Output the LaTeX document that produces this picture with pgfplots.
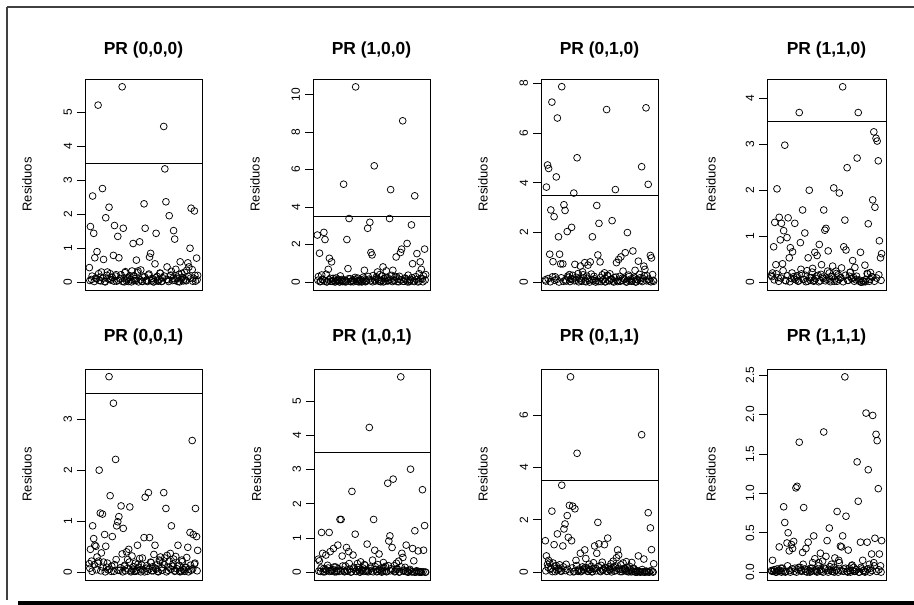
\documentclass[border=0pt]{standalone}
\usepackage{pgfplots}
\pgfplotsset{compat=1.18}
\usepackage{fontspec}
\setmainfont{Liberation Sans}
\pgfplotsset{
  rp/.style={scale only axis, height=211bp, xmin=-2.96, xmax=103.96,
    xtick=\empty, ytick pos=left, tick align=outside, major tick length=8bp,
    axis line style={line width=0.8bp},
    every tick/.style={black, line width=0.8bp},
    /pgf/number format/assume math mode=true,
    yticklabel style={rotate=90, anchor=south, inner sep=0pt, font=\fontsize{12}{12}\selectfont},
    yticklabel shift=4.7bp,
    ylabel={Residuos},
    every axis y label/.style={at={(axis description cs:-0.495,0.5)}, rotate=90, anchor=center, font=\fontsize{13}{13}\selectfont},
    every axis title/.style={at={(axis description cs:0.5,1)}, anchor=base, yshift=24bp, font=\bfseries\fontsize{17.5}{17.5}\selectfont},
    clip=true},
  pts/.style={only marks, mark=o, mark size=3.4bp, mark options={line width=0.75bp, black}},
  hl/.style={black, line width=0.8bp, no marks}
}
\begin{document}
\begin{tikzpicture}[x=1bp,y=1bp]
\useasboundingbox (0,0) rectangle (914,605);
\draw[line width=1.3bp, black!75] (7,598) -- (914,598);
\draw[line width=1.3bp, black!75] (7,598) -- (7,5);
\fill[black] (18,0) rectangle (914,3.6);

% Panel 1
\begin{axis}[rp, at={(85bp,315bp)}, anchor=south west, width=117bp, ymin=-0.23, ymax=5.99, ytick={0,1,2,3,4,5}, title={PR (0,0,0)}]
\addplot[pts] coordinates {
(1,.43)(2,1.64)(3,.08)(4,2.54)(5,1.44)(6,.72)(7,.12)(8,.90)(9,5.22)(10,.05)
(11,.15)(12,.30)(13,2.76)(14,.67)(15,.02)(16,1.90)(17,.20)(18,.10)(19,2.21)(20,.25)
(21,.06)(22,.14)(23,.79)(24,1.67)(25,.18)(26,.03)(27,1.35)(28,.72)(29,.09)(30,.22)
(31,5.76)(32,1.59)(33,.01)(34,.31)(35,.04)(36,.12)(37,.02)(38,.19)(39,.07)(40,.33)
(41,1.14)(42,.05)(43,.11)(44,.65)(45,.28)(46,.01)(47,1.19)(48,.36)(49,.03)(50,.15)
(51,2.31)(52,1.59)(53,.06)(54,.02)(55,.21)(56,.74)(57,.85)(58,.04)(59,.10)(60,.01)
(61,.54)(62,1.44)(63,.17)(64,.03)(65,.08)(66,.26)(67,.02)(68,.13)(69,4.59)(70,3.34)
(71,2.37)(72,.45)(73,.07)(74,1.96)(75,.19)(76,.32)(77,.05)(78,1.52)(79,1.27)(80,.38)
(81,.11)(82,.02)(83,.23)(84,.60)(85,.09)(86,.14)(87,.04)(88,.29)(89,.06)(90,.35)
(91,.57)(92,.45)(93,1.00)(94,2.18)(95,.37)(96,.12)(97,2.10)(98,.03)(99,.71)(100,.20)};
\addplot[pts] coordinates {
(1.5,.05)(3.5,.18)(5.5,.02)(7.5,.10)(9.5,.25)(11.5,.04)(13.5,.12)(15.5,.01)(17.5,.30)(19.5,.08)
(21.5,.15)(23.5,.03)(25.5,.22)(27.5,.06)(29.5,.11)(31.5,.02)(33.5,.28)(35.5,.09)(37.5,.14)(39.5,.01)
(41.5,.19)(43.5,.05)(45.5,.33)(47.5,.07)(49.5,.02)(51.5,.16)(53.5,.04)(55.5,.24)(57.5,.10)(59.5,.01)
(61.5,.13)(63.5,.06)(65.5,.27)(67.5,.03)(69.5,.18)(71.5,.08)(73.5,.02)(75.5,.21)(77.5,.11)(79.5,.05)
(81.5,.15)(83.5,.01)(85.5,.26)(87.5,.09)(89.5,.04)(91.5,.17)(93.5,.12)(95.5,.03)(97.5,.20)(99.5,.07)};
\addplot[hl] coordinates {(-10,3.5)(110,3.5)};
\end{axis}

% Panel 2
\begin{axis}[rp, at={(313bp,315bp)}, anchor=south west, width=117bp, ymin=-0.42, ymax=10.83, ytick={0,2,4,6,8,10}, title={PR (1,0,0)}]
\addplot[pts] coordinates {
(1,2.51)(2,.30)(3,1.54)(4,.05)(5,.38)(6,.12)(7,2.65)(8,2.27)(9,.42)(10,.02)
(11,.68)(12,1.27)(13,.20)(14,1.08)(15,.04)(16,.10)(17,.01)(18,.22)(19,.06)(20,.15)
(21,.02)(22,.33)(23,.08)(24,.03)(25,5.22)(26,.11)(27,.01)(28,2.27)(29,.72)(30,3.39)
(31,.18)(32,.04)(33,.09)(34,.02)(35,.14)(36,10.41)(37,.05)(38,.21)(39,.01)(40,.07)
(41,.12)(42,.03)(43,.26)(44,.63)(45,.02)(46,.09)(47,2.87)(48,.15)(49,3.19)(50,1.58)
(51,1.45)(52,.35)(53,6.20)(54,.06)(55,.28)(56,.54)(57,.13)(58,.40)(59,.02)(60,.32)
(61,.81)(62,.19)(63,.05)(64,.60)(65,.24)(66,.10)(67,3.39)(68,4.93)(69,.36)(70,.63)
(71,.08)(72,.27)(73,1.34)(74,.03)(75,.16)(76,.31)(77,1.58)(78,1.76)(79,8.60)(80,.04)
(81,.22)(82,.11)(83,2.06)(84,.37)(85,.02)(86,.14)(87,3.05)(88,.98)(89,.07)(90,4.60)
(91,.29)(92,1.52)(93,.01)(94,.45)(95,1.08)(96,.68)(97,.18)(98,.33)(99,1.76)(100,.40)};
\addplot[pts] coordinates {
(1.5,.10)(3.5,.02)(5.5,.15)(7.5,.05)(9.5,.01)(11.5,.12)(13.5,.04)(15.5,.20)(17.5,.02)(19.5,.08)
(21.5,.01)(23.5,.14)(25.5,.03)(27.5,.06)(29.5,.18)(31.5,.02)(33.5,.09)(35.5,.25)(37.5,.04)(39.5,.11)
(41.5,.01)(43.5,.16)(45.5,.05)(47.5,.30)(49.5,.07)(51.5,.02)(53.5,.13)(55.5,.20)(57.5,.04)(59.5,.09)
(61.5,.01)(63.5,.22)(65.5,.06)(67.5,.15)(69.5,.03)(71.5,.10)(73.5,.28)(75.5,.02)(77.5,.12)(79.5,.05)
(81.5,.18)(83.5,.01)(85.5,.08)(87.5,.24)(89.5,.03)(91.5,.14)(93.5,.06)(95.5,.20)(97.5,.02)(99.5,.11)};
\addplot[hl] coordinates {(-10,3.5)(110,3.5)};
\end{axis}

% Panel 3
\begin{axis}[rp, at={(541bp,315bp)}, anchor=south west, width=117bp, ymin=-0.31, ymax=8.18, ytick={0,2,4,6,8}, title={PR (0,1,0)}]
\addplot[pts] coordinates {
(1,.10)(2,3.83)(3,4.72)(4,4.58)(5,1.13)(6,2.91)(7,7.25)(8,.83)(9,2.64)(10,.22)
(11,4.24)(12,6.61)(13,1.83)(14,1.13)(15,.74)(16,7.87)(17,.74)(18,3.12)(19,2.89)(20,.05)
(21,2.04)(22,.20)(23,.31)(24,.12)(25,2.21)(26,.28)(27,3.59)(28,.72)(29,.08)(30,5.01)
(31,.35)(32,.15)(33,.65)(34,.04)(35,.42)(36,.18)(37,.79)(38,.02)(39,.25)(40,.69)
(41,.09)(42,.82)(43,.33)(44,1.83)(45,.06)(46,.14)(47,.01)(48,3.09)(49,1.10)(50,2.37)
(51,.82)(52,.03)(53,.30)(54,.10)(55,.38)(56,.02)(57,6.95)(58,.27)(59,.07)(60,.34)
(61,.12)(62,2.48)(63,.05)(64,.19)(65,3.73)(66,.79)(67,.03)(68,.92)(69,.24)(70,1.02)
(71,.08)(72,.45)(73,.15)(74,1.19)(75,.01)(76,2.00)(77,.29)(78,.06)(79,.13)(80,.04)
(81,1.26)(82,.20)(83,.48)(84,.02)(85,.11)(86,.85)(87,.32)(88,.07)(89,4.65)(90,.16)
(91,.65)(92,.52)(93,7.02)(94,.26)(95,3.94)(96,.05)(97,1.08)(98,.98)(99,.31)(100,.04)};
\addplot[pts] coordinates {
(1.5,.05)(3.5,.15)(5.5,.02)(7.5,.22)(9.5,.08)(11.5,.12)(13.5,.01)(15.5,.18)(17.5,.04)(19.5,.10)
(21.5,.25)(23.5,.03)(25.5,.14)(27.5,.06)(29.5,.20)(31.5,.02)(33.5,.09)(35.5,.30)(37.5,.05)(39.5,.16)
(41.5,.01)(43.5,.11)(45.5,.24)(47.5,.07)(49.5,.03)(51.5,.19)(53.5,.10)(55.5,.02)(57.5,.27)(59.5,.06)
(61.5,.13)(63.5,.01)(65.5,.21)(67.5,.08)(69.5,.04)(71.5,.17)(73.5,.11)(75.5,.02)(77.5,.23)(79.5,.05)
(81.5,.14)(83.5,.01)(85.5,.09)(87.5,.18)(89.5,.03)(91.5,.26)(93.5,.06)(95.5,.12)(97.5,.02)(99.5,.08)};
\addplot[hl] coordinates {(-10,3.5)(110,3.5)};
\end{axis}

% Panel 4
\begin{axis}[rp, at={(767bp,315bp)}, anchor=south west, width=119bp, ymin=-0.17, ymax=4.42, ytick={0,1,2,3,4}, title={PR (1,1,0)}, every axis y label/.append style={at={(axis description cs:-0.47,0.5)}}]
\addplot[pts] coordinates {
(1,.15)(2,.20)(3,.77)(4,1.30)(5,.38)(6,2.03)(7,.10)(8,1.41)(9,.92)(10,1.28)
(11,.40)(12,1.12)(13,2.98)(14,.03)(15,.97)(16,1.40)(17,.53)(18,.75)(19,.08)(20,.66)
(21,.12)(22,1.28)(23,.05)(24,.14)(25,.02)(26,3.69)(27,.86)(28,.18)(29,1.57)(30,.06)
(31,1.07)(32,.01)(33,.25)(34,.53)(35,2.00)(36,.04)(37,.10)(38,.30)(39,.02)(40,.65)
(41,.08)(42,.58)(43,.15)(44,.82)(45,.03)(46,.38)(47,.11)(48,1.57)(49,1.13)(50,1.17)
(51,.06)(52,.68)(53,.20)(54,.01)(55,.12)(56,.35)(57,2.05)(58,.07)(59,.24)(60,.02)
(61,.16)(62,1.94)(63,.09)(64,.31)(65,4.25)(66,.77)(67,1.35)(68,.70)(69,2.49)(70,.04)
(71,.13)(72,.22)(73,.08)(74,.47)(75,.10)(76,.32)(77,.05)(78,2.70)(79,3.69)(80,.02)
(81,.65)(82,.00)(83,.03)(84,.01)(85,.37)(86,.06)(87,.19)(88,1.27)(89,.02)(90,.21)
(91,.12)(92,1.79)(93,3.27)(94,1.63)(95,3.13)(96,3.07)(97,2.64)(98,.90)(99,.53)(100,.62)};
\addplot[pts] coordinates {
(1.5,.12)(3.5,.05)(5.5,.18)(7.5,.02)(9.5,.09)(11.5,.25)(13.5,.04)(15.5,.14)(17.5,.01)(19.5,.20)
(21.5,.07)(23.5,.11)(25.5,.03)(27.5,.28)(29.5,.06)(31.5,.15)(33.5,.02)(35.5,.10)(37.5,.22)(39.5,.04)
(41.5,.13)(43.5,.01)(45.5,.17)(47.5,.08)(49.5,.03)(51.5,.24)(53.5,.05)(55.5,.12)(57.5,.02)(59.5,.19)
(61.5,.06)(63.5,.10)(65.5,.01)(67.5,.15)(69.5,.04)(71.5,.21)(73.5,.08)(75.5,.02)(77.5,.13)(79.5,.05)
(81.5,.00)(83.5,.03)(85.5,.01)(87.5,.18)(89.5,.06)(91.5,.11)(93.5,.02)(95.5,.09)(97.5,.16)(99.5,.04)};
\addplot[hl] coordinates {(-10,3.5)(110,3.5)};
\end{axis}

% Panel 5
\begin{axis}[rp, at={(85bp,25bp)}, anchor=south west, width=117bp, ymin=-0.15, ymax=3.98, ytick={0,1,2,3}, title={PR (0,0,1)}, every axis title/.append style={yshift=3bp}]
\addplot[pts] coordinates {
(1,.17)(2,.45)(3,.22)(4,.91)(5,.66)(6,.53)(7,.51)(8,.30)(9,.18)(10,2.00)
(11,1.16)(12,.38)(13,1.14)(14,.20)(15,.74)(16,.51)(17,.10)(18,.05)(19,3.83)(20,1.50)
(21,.02)(22,.70)(23,3.31)(24,.15)(25,2.21)(26,.91)(27,.99)(28,1.09)(29,.04)(30,1.30)
(31,.36)(32,.86)(33,.12)(34,.03)(35,.40)(36,.25)(37,.45)(38,1.28)(39,.01)(40,.32)
(41,.06)(42,.02)(43,.18)(44,.04)(45,.53)(46,.10)(47,.27)(48,.01)(49,.14)(50,.05)
(51,.68)(52,1.47)(53,.08)(54,.02)(55,1.56)(56,.68)(57,.20)(58,.03)(59,.11)(60,.35)
(61,.53)(62,.06)(63,.15)(64,.01)(65,.24)(66,.30)(67,.09)(68,.19)(69,1.56)(70,.28)
(71,1.25)(72,.33)(73,.04)(74,.22)(75,.37)(76,.91)(77,.12)(78,.26)(79,.02)(80,.31)
(81,.07)(82,.53)(83,.14)(84,.01)(85,.03)(86,.21)(87,.05)(88,.02)(89,.10)(90,.29)
(91,.49)(92,.06)(93,.78)(94,.04)(95,2.58)(96,.74)(97,.16)(98,1.25)(99,.70)(100,.43)};
\addplot[pts] coordinates {
(1.5,.08)(3.5,.02)(5.5,.15)(7.5,.05)(9.5,.22)(11.5,.03)(13.5,.10)(15.5,.01)(17.5,.18)(19.5,.06)
(21.5,.12)(23.5,.02)(25.5,.25)(27.5,.04)(29.5,.09)(31.5,.01)(33.5,.14)(35.5,.07)(37.5,.20)(39.5,.03)
(41.5,.11)(43.5,.02)(45.5,.16)(47.5,.05)(49.5,.28)(51.5,.01)(53.5,.13)(55.5,.06)(57.5,.19)(59.5,.03)
(61.5,.08)(63.5,.02)(65.5,.22)(67.5,.04)(69.5,.15)(71.5,.01)(73.5,.10)(75.5,.06)(77.5,.17)(79.5,.03)
(81.5,.12)(83.5,.02)(85.5,.24)(87.5,.05)(89.5,.09)(91.5,.01)(93.5,.14)(95.5,.07)(97.5,.18)(99.5,.03)};
\addplot[hl] coordinates {(-10,3.5)(110,3.5)};
\end{axis}

% Panel 6
\begin{axis}[rp, at={(314bp,25bp)}, anchor=south west, width=116bp, ymin=-0.23, ymax=5.94, ytick={0,1,2,3,4,5}, title={PR (1,0,1)}, every axis title/.append style={yshift=3bp}]
\addplot[pts] coordinates {
(1,.38)(2,.33)(3,.02)(4,1.16)(5,.55)(6,.10)(7,.01)(8,.50)(9,.05)(10,.12)
(11,1.16)(12,.60)(13,.03)(14,.08)(15,.69)(16,.01)(17,.15)(18,.04)(19,.79)(20,.02)
(21,1.54)(22,1.54)(23,.47)(24,.06)(25,.01)(26,.18)(27,.72)(28,.03)(29,.60)(30,.09)
(31,.00)(32,2.36)(33,.50)(34,.14)(35,1.11)(36,.02)(37,.25)(38,.07)(39,.01)(40,.30)
(41,.04)(42,.12)(43,.02)(44,.20)(45,.06)(46,.82)(47,.01)(48,4.23)(49,.15)(50,.03)
(51,.35)(52,1.54)(53,.64)(54,.08)(55,.01)(56,.22)(57,.53)(58,.05)(59,.12)(60,.02)
(61,.28)(62,.04)(63,.17)(64,.01)(65,2.60)(66,.91)(67,1.06)(68,.10)(69,.72)(70,2.72)
(71,.19)(72,.03)(73,.26)(74,.08)(75,.32)(76,.01)(77,5.71)(78,.55)(79,.43)(80,.06)
(81,.14)(82,.79)(83,.02)(84,.00)(85,.05)(86,3.01)(87,.01)(88,.69)(89,.33)(90,1.21)
(91,.00)(92,.02)(93,.62)(94,.00)(95,.01)(96,.00)(97,2.41)(98,.64)(99,1.36)(100,.00)};
\addplot[pts] coordinates {
(1.5,.03)(3.5,.12)(5.5,.01)(7.5,.08)(9.5,.20)(11.5,.02)(13.5,.05)(15.5,.15)(17.5,.01)(19.5,.10)
(21.5,.04)(23.5,.18)(25.5,.02)(27.5,.06)(29.5,.25)(31.5,.01)(33.5,.09)(35.5,.03)(37.5,.14)(39.5,.00)
(41.5,.07)(43.5,.22)(45.5,.02)(47.5,.05)(49.5,.11)(51.5,.01)(53.5,.16)(55.5,.03)(57.5,.08)(59.5,.00)
(61.5,.13)(63.5,.02)(65.5,.19)(67.5,.04)(69.5,.06)(71.5,.01)(73.5,.10)(75.5,.00)(77.5,.15)(79.5,.03)
(81.5,.02)(83.5,.00)(85.5,.08)(87.5,.01)(89.5,.00)(91.5,.04)(93.5,.02)(95.5,.00)(97.5,.01)(99.5,.00)};
\addplot[hl] coordinates {(-10,3.5)(110,3.5)};
\end{axis}

% Panel 7
\begin{axis}[rp, at={(541bp,25bp)}, anchor=south west, width=117bp, ymin=-0.30, ymax=7.76, ytick={0,2,4,6}, title={PR (0,1,1)}, every axis title/.append style={yshift=3bp}]
\addplot[pts] coordinates {
(1,1.20)(2,.62)(3,.30)(4,.45)(5,.35)(6,.15)(7,2.33)(8,.35)(9,1.05)(10,.02)
(11,.25)(12,1.46)(13,.10)(14,.28)(15,.05)(16,3.32)(17,1.00)(18,1.65)(19,1.84)(20,.30)
(21,2.16)(22,1.33)(23,2.55)(24,7.46)(25,1.20)(26,2.52)(27,.01)(28,2.42)(29,.45)(30,4.54)
(31,.03)(32,.12)(33,.72)(34,.05)(35,.20)(36,.08)(37,.85)(38,.52)(39,.15)(40,.04)
(41,.30)(42,.10)(43,.22)(44,.02)(45,.36)(46,1.00)(47,.14)(48,.72)(49,1.90)(50,1.08)
(51,.05)(52,.26)(53,.38)(54,.11)(55,1.05)(56,.18)(57,.03)(58,1.30)(59,.20)(60,.08)
(61,.32)(62,.15)(63,.42)(64,.04)(65,.24)(66,.55)(67,.85)(68,.65)(69,.10)(70,.28)
(71,.02)(72,.35)(73,.12)(74,.06)(75,.40)(76,.16)(77,.01)(78,.22)(79,.09)(80,.37)
(81,.03)(82,.14)(83,.01)(84,.05)(85,.00)(86,.62)(87,.02)(88,.00)(89,5.25)(90,.01)
(91,.50)(92,.00)(93,.04)(94,.01)(95,2.27)(96,.00)(97,1.69)(98,.86)(99,.02)(100,.32)};
\addplot[pts] coordinates {
(1.5,.05)(3.5,.18)(5.5,.10)(7.5,.02)(9.5,.22)(11.5,.08)(13.5,.14)(15.5,.03)(17.5,.20)(19.5,.06)
(21.5,.11)(23.5,.01)(25.5,.16)(27.5,.04)(29.5,.25)(31.5,.07)(33.5,.02)(35.5,.12)(37.5,.18)(39.5,.03)
(41.5,.09)(43.5,.01)(45.5,.14)(47.5,.05)(49.5,.21)(51.5,.02)(53.5,.08)(55.5,.16)(57.5,.04)(59.5,.11)
(61.5,.01)(63.5,.19)(65.5,.06)(67.5,.13)(69.5,.02)(71.5,.09)(73.5,.15)(75.5,.03)(77.5,.07)(79.5,.01)
(81.5,.12)(83.5,.00)(85.5,.05)(87.5,.02)(89.5,.10)(91.5,.00)(93.5,.03)(95.5,.01)(97.5,.06)(99.5,.00)};
\addplot[hl] coordinates {(-10,3.5)(110,3.5)};
\end{axis}

% Panel 8
\begin{axis}[rp, at={(767bp,25bp)}, anchor=south west, width=119bp, ymin=-0.10, ymax=2.58, ytick={0,0.5,1,1.5,2,2.5}, yticklabels={0.0,0.5,1.0,1.5,2.0,2.5}, title={PR (1,1,1)}, every axis title/.append style={yshift=3bp}, every axis y label/.append style={at={(axis description cs:-0.47,0.5)}}]
\addplot[pts] coordinates {
(1,.02)(2,.15)(3,.01)(4,.03)(5,.00)(6,.04)(7,.01)(8,.32)(9,.02)(10,.00)
(11,.05)(12,.83)(13,.63)(14,.01)(15,.37)(16,.50)(17,.27)(18,.00)(19,.35)(20,.30)
(21,.39)(22,.05)(23,1.07)(24,1.09)(25,.03)(26,1.65)(27,.06)(28,.01)(29,.25)(30,.82)
(31,.04)(32,.30)(33,.00)(34,.38)(35,.02)(36,.05)(37,.01)(38,.12)(39,.46)(40,.17)
(41,.03)(42,.00)(43,.08)(44,.02)(45,.24)(46,.01)(47,.14)(48,1.78)(49,.05)(50,.20)
(51,.40)(52,.00)(53,.56)(54,.03)(55,.10)(56,.01)(57,.06)(58,.18)(59,.02)(60,.77)
(61,.00)(62,.12)(63,.33)(64,.32)(65,.46)(66,.04)(67,2.48)(68,.71)(69,.01)(70,.28)
(71,.05)(72,.00)(73,.08)(74,.02)(75,.06)(76,.01)(77,.03)(78,1.40)(79,.90)(80,.00)
(81,.38)(82,.04)(83,.15)(84,.02)(85,.00)(86,2.02)(87,.38)(88,1.30)(89,.10)(90,.05)
(91,.23)(92,1.99)(93,.12)(94,.43)(95,1.75)(96,1.67)(97,1.06)(98,.23)(99,.08)(100,.40)};
\addplot[pts] coordinates {
(1.5,.01)(3.5,.03)(5.5,.00)(7.5,.02)(9.5,.05)(11.5,.01)(13.5,.00)(15.5,.08)(17.5,.02)(19.5,.04)
(21.5,.01)(23.5,.00)(25.5,.06)(27.5,.02)(29.5,.10)(31.5,.01)(33.5,.03)(35.5,.00)(37.5,.05)(39.5,.02)
(41.5,.01)(43.5,.12)(45.5,.03)(47.5,.00)(49.5,.04)(51.5,.02)(53.5,.07)(55.5,.01)(57.5,.00)(59.5,.03)
(61.5,.15)(63.5,.02)(65.5,.01)(67.5,.05)(69.5,.00)(71.5,.02)(73.5,.09)(75.5,.01)(77.5,.03)(79.5,.00)
(81.5,.06)(83.5,.02)(85.5,.01)(87.5,.04)(89.5,.00)(91.5,.02)(93.5,.08)(95.5,.01)(97.5,.03)(99.5,.00)};
\end{axis}
\end{tikzpicture}
\end{document}
